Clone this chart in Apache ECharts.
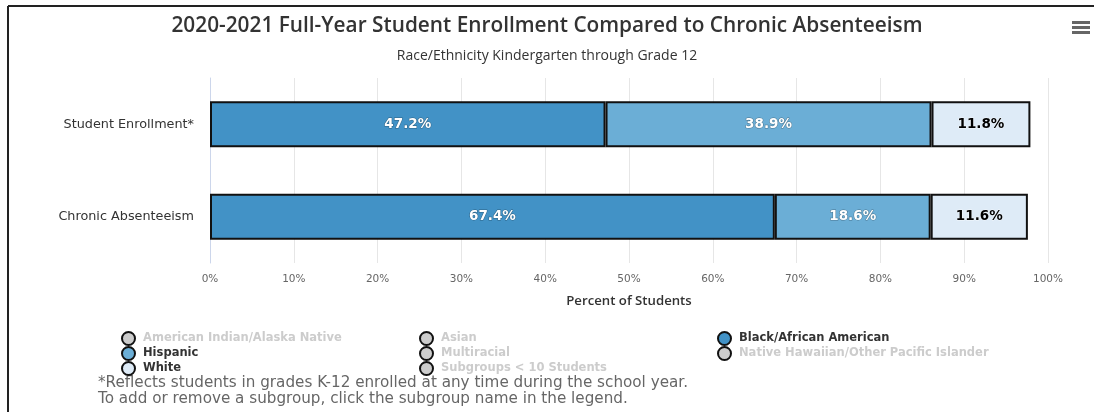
<!DOCTYPE html>
<html>
<head>
<meta charset="utf-8">
<script src="https://cdn.jsdelivr.net/npm/echarts@6/dist/echarts.min.js"></script>
<style>
html,body{margin:0;padding:0;background:#fff;}
#chart{width:1094px;height:412px;}
</style>
</head>
<body>
<div id="chart"></div>
<script>
var categories = ['Student Enrollment*', 'Chronic Absenteeism'];
var seriesNames = ['American Indian/Alaska Native', 'Asian', 'Black/African American', 'Hispanic', 'Multiracial', 'Native Hawaiian/Other Pacific Islander', 'White', 'Subgroups < 10 Students'];
// hidden (deselected) subgroups: values not visible in the reference
var americanIndian = [null, null];
var asian = [null, null];
var black = [47.2, 67.4];
var hispanic = [38.9, 18.6];
var multiracial = [null, null];
var nativeHawaiian = [null, null];
var white = [11.8, 11.6];
var subgroupsSmall = [null, null];
var xTickLabels = ['0%', '10%', '20%', '30%', '40%', '50%', '60%', '70%', '80%', '90%', '100%'];

var seriesData = [americanIndian, asian, black, hispanic, multiracial, nativeHawaiian, white, subgroupsSmall];
var colors = ['#c0c0c0', '#c0c0c0', '#4292c6', '#6baed6', '#c0c0c0', '#c0c0c0', '#deebf7', '#c0c0c0'];
var visible = [false, false, true, true, false, false, true, false];

var selected = {};
seriesNames.forEach(function (n, i) { selected[n] = visible[i]; });

var series = seriesNames.map(function (name, i) {
  var dark = (i === 6);
  return {
    name: name,
    type: 'bar',
    stack: 'total',
    barWidth: 46,
    data: seriesData[i],
    itemStyle: { color: colors[i], borderColor: '#111', borderWidth: 2 },
    label: {
      show: true,
      position: 'inside',
      formatter: function (p) { return p.value == null ? '' : p.value.toFixed(1) + '%'; },
      fontFamily: 'DejaVu Sans',
      fontWeight: 'bold',
      fontSize: 13.5,
      color: dark ? '#000' : '#fff',
      textBorderColor: dark ? 'rgba(255,255,255,0.6)' : 'rgba(0,0,0,0.35)',
      textBorderWidth: 1
    },
    emphasis: { disabled: true }
  };
});

function legendCol(left, names) {
  return {
    orient: 'vertical',
    left: left,
    top: 331,
    padding: 0,
    itemWidth: 13,
    itemHeight: 13,
    itemGap: 0,
    icon: 'circle',
    data: names,
    selected: selected,
    inactiveColor: '#cccccc',
    inactiveBorderColor: '#111',
    inactiveBorderWidth: 2,
    itemStyle: { borderColor: '#111', borderWidth: 2 },
    textStyle: { fontFamily: 'DejaVu Sans', fontWeight: 'bold', fontSize: 11.5, lineHeight: 13, color: '#333', padding: [0, 0, 0, 3] }
  };
}

var chart = echarts.init(document.getElementById('chart'), null, { renderer: 'canvas' });
chart.setOption({
  animation: false,
  title: [
    { text: '2020-2021 Full-Year Student Enrollment Compared to Chronic Absenteeism', left: 'center', top: 11,
      textStyle: { fontFamily: 'Open Sans', fontSize: 20.8, fontWeight: 600, color: '#333' } },
    { text: 'Race/Ethnicity Kindergarten through Grade 12', left: 'center', top: 44,
      textStyle: { fontFamily: 'Open Sans', fontSize: 14, fontWeight: 'normal', color: '#333' } }
  ],
  legend: [
    legendCol(121, [seriesNames[0], seriesNames[3], seriesNames[6]]),
    legendCol(419, [seriesNames[1], seriesNames[4], seriesNames[7]]),
    legendCol(717, [seriesNames[2], seriesNames[5]])
  ],
  grid: { left: 210, right: 46, top: 78, bottom: 149, containLabel: false },
  xAxis: {
    type: 'value', min: 0, max: 100, interval: 10,
    name: 'Percent of Students', nameLocation: 'middle', nameGap: 32,
    nameTextStyle: { fontFamily: 'Open Sans', fontWeight: 600, fontSize: 13.2, color: '#333' },
    axisLine: { show: false },
    axisTick: { show: false },
    axisLabel: { margin: 11, fontFamily: 'DejaVu Sans', fontSize: 10.5, color: '#666',
      formatter: function (v) { return xTickLabels[Math.round(v / 10)]; } },
    splitLine: { show: true, lineStyle: { color: '#e6e6e6', width: 1 } }
  },
  yAxis: {
    type: 'category', data: categories, inverse: true,
    axisLine: { show: true, lineStyle: { color: '#ccd6eb' } },
    axisTick: { show: false },
    axisLabel: { margin: 16, fontFamily: 'DejaVu Sans', fontSize: 12.8, color: '#333' }
  },
  series: series,
  graphic: [
    { type: 'line', shape: { x1: 8, y1: 6, x2: 1094, y2: 6 }, style: { stroke: '#222', lineWidth: 2 } },
    { type: 'line', shape: { x1: 8, y1: 6, x2: 8, y2: 412 }, style: { stroke: '#222', lineWidth: 2 } },
    { type: 'rect', shape: { x: 1072, y: 21, width: 18, height: 3 }, style: { fill: '#666' } },
    { type: 'rect', shape: { x: 1072, y: 26, width: 18, height: 3 }, style: { fill: '#666' } },
    { type: 'rect', shape: { x: 1072, y: 31, width: 18, height: 3 }, style: { fill: '#666' } },
    { type: 'text', left: 98, top: 376, style: { text: '*Reflects students in grades K-12 enrolled at any time during the school year.', fontFamily: 'DejaVu Sans', fontSize: 15.2, fill: '#666' } },
    { type: 'text', left: 98, top: 392, style: { text: 'To add or remove a subgroup, click the subgroup name in the legend.', fontFamily: 'DejaVu Sans', fontSize: 15.2, fill: '#666' } }
  ]
});
</script>
</body>
</html>
